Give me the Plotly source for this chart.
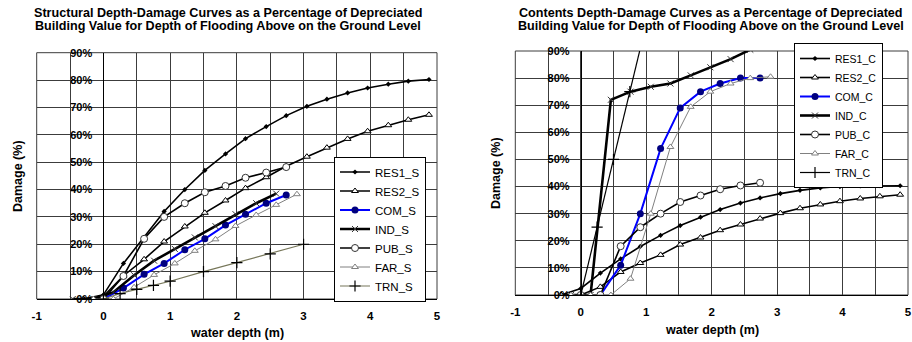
import plotly.graph_objects as go

# ---------------- data ----------------
# water depth points (m)
depth_ft = [-0.30, 0.00, 0.30, 0.61, 0.91, 1.22, 1.52, 1.83, 2.13, 2.44, 2.74, 3.05, 3.35, 3.66, 3.96, 4.27, 4.57, 4.88]
depth_10 = [0.00, 0.30, 0.61, 0.91, 1.22, 1.52, 1.83, 2.13, 2.44, 2.74]
depth_half = [-0.46, -0.15, 0.15, 0.46, 0.76, 1.07, 1.37, 1.68, 1.98, 2.29, 2.59]
depth_far = [-0.15, 0.15, 0.46, 0.76, 1.07, 1.37, 1.68, 1.98, 2.29, 2.59, 2.90]
depth_trn_s = [0.00, 0.25, 0.50, 0.75, 1.00, 1.50, 2.00, 2.50, 3.00]
depth_com_c = [0.30, 0.61, 0.91, 1.22, 1.52, 1.83, 2.13, 2.44, 2.74]
depth_ind_c = [-0.15, 0.15, 0.46, 0.76, 1.07, 1.37, 1.68, 1.98, 2.29, 2.59]
depth_trn_c = [0.00, 0.25, 0.50, 0.75, 1.00]

# structural damage (%)
res1_s = [0, 1.5, 13, 22.5, 32, 40, 47, 53, 58.6, 63, 67, 70.4, 73, 75.3, 77.1, 78.5, 79.6, 80.2]
res2_s = [0, 1, 8.5, 14.5, 21, 26.5, 31.5, 36, 40.5, 44.5, 48.5, 52, 55.3, 58.5, 61.3, 63.5, 65.5, 67.3]
com_s = [0, 4, 9, 13, 18, 22, 27, 31, 35, 38]
ind_s = [0, 0, 2.5, 8.7, 14, 18.3, 22.5, 26.6, 31, 35, 38.5]
pub_s = [0, 8.4, 22, 30, 35, 39, 41.3, 44.3, 46.2, 48.2]
far_s = [0, 0, 4.3, 8.8, 13, 17.6, 21.8, 26.7, 30.7, 34.4, 38.3]
trn_s = [0, 2, 3.5, 5, 6.5, 10, 13.3, 16.5, 20]

# contents damage (%)
res1_c = [0, 2.4, 8.1, 13.3, 17.9, 22, 25.6, 28.7, 31.5, 33.9, 35.8, 37.4, 38.6, 39.5, 40, 40.2, 40.3, 40.3]
res2_c = [0, 0, 3, 8.5, 11.8, 14.8, 18.6, 21.2, 23.9, 26, 28.2, 30.2, 32, 33.4, 34.6, 35.6, 36.4, 37]
com_c = [0, 11, 30, 54, 69, 75, 78, 80, 80]
ind_c = [0, 0, 72, 75, 76.8, 78, 81, 84, 87, 90.5]
pub_c = [0, 0, 18, 25, 30, 34.3, 36.7, 39, 40.4, 41.4]
far_c = [0, 0, 0, 6, 30, 54.6, 69.4, 75, 78, 80, 80.5]
trn_c = [0, 25, 50, 75, 100]

# tick positions / labels (grid every 0.5 m, labels every 1 m)
x_tickvals = [-1, -0.5, 0, 0.5, 1, 1.5, 2, 2.5, 3, 3.5, 4, 4.5, 5]
x_ticktext = ["-1", "", "0", "", "1", "", "2", "", "3", "", "4", "", "5"]
y_tickvals = [0, 10, 20, 30, 40, 50, 60, 70, 80, 90]
y_ticktext = ["0%", "10%", "20%", "30%", "40%", "50%", "60%", "70%", "80%", "90%"]

titles = [
    ["Structural Depth-Damage Curves as a Percentage of Depreciated",
     "Building Value for Depth of Flooding Above on the Ground Level"],
    ["Contents Depth-Damage Curves as a Percentage of Depreciated",
     "Building Value for Depth of Flooding Above on the Ground Level"],
]

# ---------------- styles ----------------
FONT = "Liberation Sans, Arial, sans-serif"
GRID = "#3c3c3c"
W, H = 912, 342

styles = {
    "RES1": dict(line=dict(color="black", width=1.6), marker=dict(symbol="diamond", size=4, color="black")),
    "RES2": dict(line=dict(color="black", width=1.6), marker=dict(symbol="triangle-up", size=6, color="white", line=dict(color="black", width=1))),
    "COM": dict(line=dict(color="#0000FF", width=2), marker=dict(symbol="circle", size=7, color="#000080")),
    "IND": dict(line=dict(color="black", width=2.6), marker=dict(symbol="x-thin-open", size=6, color="#333333", line=dict(width=1))),
    "PUB": dict(line=dict(color="black", width=1.6), marker=dict(symbol="circle", size=7, color="white", line=dict(color="#333333", width=1))),
    "FAR": dict(line=dict(color="#808080", width=1), marker=dict(symbol="triangle-up", size=6, color="white", line=dict(color="#808080", width=1))),
    "TRN_S": dict(line=dict(color="#77775A", width=1.2), marker=dict(symbol="cross-thin-open", size=8, color="black", line=dict(width=1.2))),
    "TRN_C": dict(line=dict(color="black", width=1.2), marker=dict(symbol="cross-thin-open", size=8, color="black", line=dict(width=1.2))),
}

fig = go.Figure()

left_series = [
    ("RES1_S", depth_ft, res1_s, "RES1"),
    ("RES2_S", depth_ft, res2_s, "RES2"),
    ("COM_S", depth_10, com_s, "COM"),
    ("IND_S", depth_half, ind_s, "IND"),
    ("PUB_S", depth_10, pub_s, "PUB"),
    ("FAR_S", depth_far, far_s, "FAR"),
    ("TRN_S", depth_trn_s, trn_s, "TRN_S"),
]
right_series = [
    ("RES1_C", depth_ft, res1_c, "RES1"),
    ("RES2_C", depth_ft, res2_c, "RES2"),
    ("COM_C", depth_com_c, com_c, "COM"),
    ("IND_C", depth_ind_c, ind_c, "IND"),
    ("PUB_C", depth_10, pub_c, "PUB"),
    ("FAR_C", depth_far, far_c, "FAR"),
    ("TRN_C", depth_trn_c, trn_c, "TRN_C"),
]

for name, xs, ys, st in left_series:
    fig.add_trace(go.Scatter(x=xs, y=ys, name=name, mode="lines+markers",
                             xaxis="x", yaxis="y", legend="legend", **styles[st]))
for name, xs, ys, st in right_series:
    fig.add_trace(go.Scatter(x=xs, y=ys, name=name, mode="lines+markers",
                             xaxis="x2", yaxis="y2", legend="legend2", **styles[st]))


def px_x(p):
    return p / W


def px_y(p):
    return 1 - p / H


def xaxis_cfg(d0, d1, anchor):
    return dict(domain=[px_x(d0), px_x(d1)], range=[-1, 5], anchor=anchor,
                tickmode="array", tickvals=x_tickvals, ticktext=x_ticktext,
                ticks="", ticklabelstandoff=6, automargin=False,
                tickfont=dict(family=FONT, size=11.5, color="black", weight="bold"),
                showgrid=True, gridcolor=GRID, gridwidth=1,
                zeroline=False, showline=True, linecolor="black", linewidth=1,
                fixedrange=True)


def yaxis_cfg(t, b, pos):
    return dict(domain=[px_y(b), px_y(t)], range=[0, 90], anchor="free", position=pos,
                tickmode="array", tickvals=y_tickvals, ticktext=y_ticktext,
                ticks="", ticklabelstandoff=9, automargin=False,
                tickfont=dict(family=FONT, size=11, color="black", weight="bold"),
                showgrid=True, gridcolor=GRID, gridwidth=1,
                zeroline=False, showline=True, linecolor="black", linewidth=1,
                fixedrange=True)


# pixel geometry of the two plot areas
L = dict(x0=36.7, x1=437.0, t=52.7, b=299.0)
R = dict(x0=515.3, x1=908.0, t=51.0, b=295.0)
L_zero = L["x0"] + (L["x1"] - L["x0"]) / 6
R_zero = R["x0"] + (R["x1"] - R["x0"]) / 6

fig.update_layout(
    width=W, height=H, margin=dict(l=0, r=0, t=0, b=0, autoexpand=False),
    paper_bgcolor="white", plot_bgcolor="white",
    font=dict(family=FONT, color="black"),
    xaxis=xaxis_cfg(L["x0"], L["x1"], "y"),
    yaxis=yaxis_cfg(L["t"], L["b"], px_x(L_zero)),
    xaxis2=xaxis_cfg(R["x0"], R["x1"], "y2"),
    yaxis2=yaxis_cfg(R["t"], R["b"], px_x(R_zero)),
    legend=dict(x=px_x(426), xanchor="right", y=px_y(229), yanchor="middle",
                bgcolor="white", bordercolor="black", borderwidth=1,
                font=dict(family=FONT, size=11.5, color="black"), itemwidth=30,
                tracegroupgap=0),
    legend2=dict(x=px_x(883), xanchor="right", y=px_y(43), yanchor="top",
                 bgcolor="white", bordercolor="black", borderwidth=1,
                 font=dict(family=FONT, size=10.5, color="black"), itemwidth=30,
                 tracegroupgap=0),
    showlegend=True,
    hovermode=False,
)

# plot-area frames
for xr, yr in (("x", "y"), ("x2", "y2")):
    fig.add_shape(type="rect", xref=f"{xr} domain", yref=f"{yr} domain",
                  x0=0, x1=1, y0=0, y1=1, line=dict(color=GRID, width=1), layer="below")

ann = []
# titles (two lines each)
for (cx, lines) in ((228, titles[0]), (711, titles[1])):
    for i, txt in enumerate(lines):
        ann.append(dict(text=txt, x=px_x(cx), y=px_y(12.8 + 13.2 * i), xref="paper", yref="paper",
                        xanchor="center", yanchor="middle", showarrow=False,
                        font=dict(family=FONT, size=12.6, color="black", weight="bold")))
# axis titles
for cx, cy in ((237, 333), (712, 330)):
    ann.append(dict(text="water depth (m)", x=px_x(cx), y=px_y(cy), xref="paper", yref="paper",
                    xanchor="center", yanchor="middle", showarrow=False,
                    font=dict(family=FONT, size=12.5, color="black", weight="bold")))
for cx, cy in ((18, 176), (496, 173)):
    ann.append(dict(text="Damage (%)", x=px_x(cx), y=px_y(cy), xref="paper", yref="paper",
                    xanchor="center", yanchor="middle", showarrow=False, textangle=-90,
                    font=dict(family=FONT, size=12.5, color="black", weight="bold")))
fig.update_layout(annotations=ann)

fig.write_html("out.html",
               config={"displayModeBar": False, "staticPlot": True},
               post_script="document.body.style.margin='0';document.body.style.overflow='hidden';")
